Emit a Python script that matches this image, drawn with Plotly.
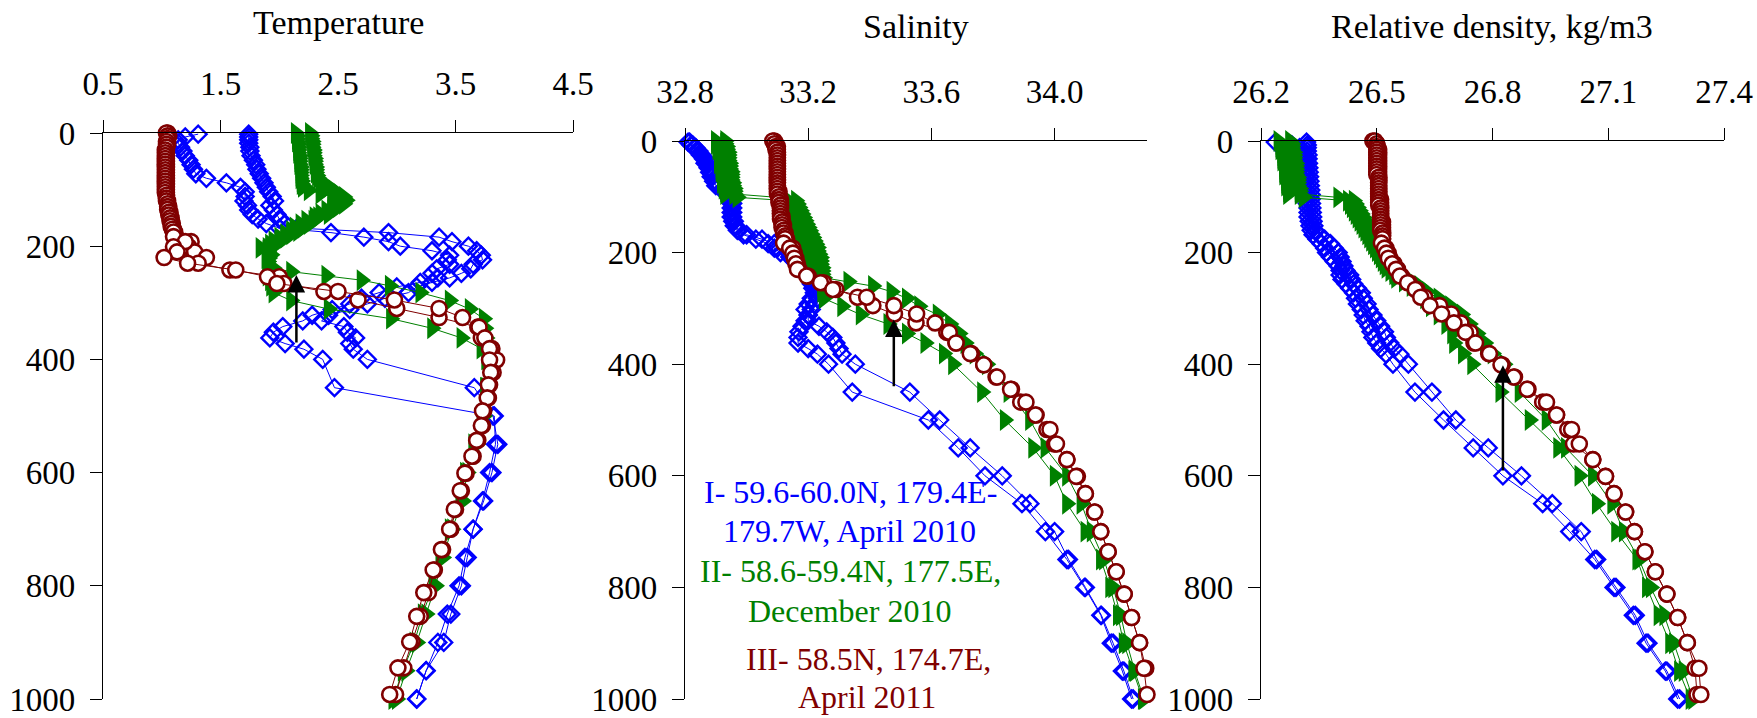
import plotly.graph_objects as go

# ---------------- DATA ----------------
# Series I (blue, April 2010) - two stations
blue_depth = [2,7,12,18,25,32,40,48,56,64,72,80,88,96,104,112,120,128,136,144,
              152,160,168,176,184,192,200,208,216,224,232,240,248,256,264,272,282,292,302,312,
              322,332,342,352,362,372,382,400,450,500,550,600,650,700,750,800,850,900,950,1000]
blue1_temp = [1.31,1.20,1.14,1.14,1.16,1.18,1.20,1.23,1.25,1.27,
              1.29,1.38,1.55,1.67,1.71,1.71,1.70,1.73,1.74,1.77,
              1.82,1.89,2.00,2.44,2.72,2.93,3.03,3.30,3.45,3.43,
              3.45,3.34,3.30,3.35,3.20,3.00,2.85,2.70,2.60,2.45,
              2.28,2.20,2.03,1.95,1.92,2.05,2.21,2.37,
              2.47,3.83,3.84,3.79,3.73,3.65,3.58,3.53,3.43,3.35,3.25,3.17]
blue2_temp = [1.74,1.74,1.74,1.74,1.75,1.75,1.76,1.78,1.80,1.81,
              1.83,1.85,1.87,1.89,1.91,1.94,1.96,1.92,1.95,1.98,
              2.00,2.05,2.15,2.93,3.36,3.47,3.61,3.68,3.72,3.73,
              3.65,3.63,3.55,3.45,3.30,3.17,3.10,2.90,2.75,2.60,
              2.42,2.36,2.55,2.58,2.65,2.60,2.63,2.75,
              3.66,3.82,3.86,3.81,3.74,3.65,3.60,3.55,3.46,3.40,3.25,3.17]
blue1_sal = [32.81,32.82,32.83,32.84,32.85,32.86,32.865,32.875,32.88,32.885,
             32.893,32.90,32.92,32.937,32.945,32.95,32.95,32.95,32.95,32.955,
             32.96,32.97,32.99,33.03,33.07,33.09,33.11,33.14,33.155,33.17,
             33.185,33.20,33.205,33.21,33.215,33.22,33.21,33.20,33.19,33.20,
             33.19,33.18,33.17,33.167,33.167,33.20,33.23,33.266,
             33.343,33.59,33.687,33.774,33.894,33.97,34.04,34.097,34.15,34.184,34.22,34.25]
blue2_sal = [32.815,32.825,32.835,32.845,32.855,32.865,32.87,32.88,32.885,32.89,
             32.90,32.91,32.93,32.945,32.95,32.955,32.955,32.955,32.955,32.96,
             32.965,32.975,33.00,33.05,33.09,33.10,33.135,33.154,33.165,33.18,
             33.19,33.20,33.21,33.215,33.225,33.23,33.23,33.22,33.21,33.20,
             33.20,33.235,33.26,33.28,33.29,33.30,33.31,33.353,
             33.53,33.627,33.726,33.83,33.92,34.00,34.045,34.10,34.152,34.19,34.225,34.255]
blue1_dens = [26.237,26.28,26.30,26.31,26.312,26.314,26.315,26.316,26.316,26.317,
              26.317,26.318,26.318,26.32,26.32,26.32,26.322,26.322,26.322,26.325,
              26.327,26.33,26.335,26.345,26.356,26.365,26.37,26.38,26.39,26.40,
              26.405,26.405,26.41,26.42,26.43,26.44,26.445,26.45,26.46,26.465,
              26.47,26.48,26.485,26.49,26.50,26.51,26.524,26.542,
              26.599,26.673,26.75,26.827,26.93,27.00,27.065,27.115,27.165,27.198,27.248,27.28]
blue2_dens = [26.318,26.32,26.32,26.32,26.322,26.322,26.323,26.324,26.325,26.326,
              26.327,26.328,26.329,26.33,26.33,26.331,26.332,26.333,26.334,26.335,
              26.337,26.34,26.35,26.365,26.38,26.39,26.40,26.405,26.41,26.415,
              26.42,26.43,26.435,26.44,26.45,26.46,26.465,26.475,26.48,26.49,
              26.50,26.51,26.52,26.525,26.534,26.545,26.56,26.582,
              26.643,26.705,26.789,26.875,26.955,27.03,27.07,27.12,27.17,27.203,27.252,27.285]

# Series II (green, December 2010) - two stations
green_depth = [0,5,10,15,20,25,30,35,40,45,50,55,60,65,70,75,80,85,90,95,
               101,107,113,119,125,131,137,143,149,155,161,167,173,179,185,191,197,203,209,215,221,227,233,239,245,
               252,260,270,282,296,311,328,345,362,381,400,
               450,500,550,600,650,700,750,800,850,900,950,1000]
green1_temp = [2.14,2.15,2.15,2.15,2.16,2.16,2.16,2.16,2.17,2.17,2.17,2.17,2.18,2.18,2.18,2.18,2.18,2.19,2.19,2.20,
               2.25,2.35,2.45,2.52,2.50,2.45,2.40,2.35,2.30,2.23,2.18,2.13,2.10,2.05,2.00,1.95,1.92,1.90,1.90,1.90,1.89,1.90,1.90,1.95,2.10,
               2.40,2.70,2.94,3.20,3.45,3.62,3.74,3.75,3.76,3.77,3.77,
               3.75,3.72,3.65,3.58,3.54,3.45,3.37,3.31,3.22,3.15,3.05,2.97]
green2_temp = [2.26,2.27,2.27,2.28,2.28,2.28,2.29,2.29,2.29,2.30,2.30,2.30,2.31,2.31,2.31,2.32,2.33,2.35,2.38,2.42,
               2.46,2.50,2.55,2.57,2.55,2.50,2.45,2.42,2.33,2.29,2.25,2.20,2.16,2.10,2.05,2.00,1.97,1.84,1.90,1.93,1.91,1.90,1.90,1.90,1.90,
               1.90,1.92,1.93,1.95,2.10,2.42,2.95,3.30,3.55,3.72,3.76,
               3.76,3.74,3.68,3.60,3.56,3.47,3.39,3.33,3.25,3.17,3.08,3.00]
green1_sal = [32.90,32.90,32.905,32.905,32.91,32.91,32.91,32.91,32.91,32.915,32.915,32.915,32.92,32.92,32.92,32.92,32.925,32.925,32.93,32.93,
              32.97,33.135,33.14,33.145,33.15,33.155,33.16,33.16,33.165,33.17,33.17,33.175,33.18,33.18,33.185,33.19,33.19,33.195,33.20,33.20,33.205,33.21,33.215,33.22,33.25,
              33.33,33.41,33.47,33.52,33.56,33.62,33.66,33.69,33.71,33.74,33.78,
              33.85,33.92,33.97,34.04,34.087,34.12,34.16,34.19,34.215,34.235,34.26,34.29]
green2_sal = [32.93,32.93,32.935,32.935,32.94,32.94,32.94,32.94,32.945,32.945,32.945,32.95,32.95,32.95,32.95,32.955,32.955,32.96,32.96,32.96,
              33.10,33.16,33.165,33.17,33.175,33.18,33.185,33.19,33.195,33.20,33.205,33.21,33.215,33.22,33.225,33.23,33.23,33.235,33.24,33.24,33.24,33.245,33.245,33.245,33.245,
              33.245,33.245,33.245,33.25,33.31,33.37,33.46,33.52,33.58,33.64,33.67,
              33.764,33.838,33.93,34.00,34.04,34.10,34.15,34.18,34.205,34.224,34.255,34.286]
green1_dens = [26.245,26.25,26.25,26.25,26.255,26.255,26.255,26.255,26.26,26.26,26.26,26.26,26.26,26.265,26.265,26.265,26.265,26.27,26.27,26.27,
               26.31,26.425,26.43,26.435,26.44,26.445,26.45,26.455,26.46,26.465,26.47,26.475,26.48,26.485,26.49,26.495,26.50,26.505,26.51,26.515,26.52,26.525,26.535,26.545,26.57,
               26.59,26.61,26.63,26.66,26.69,26.72,26.74,26.76,26.78,26.80,26.83,
               26.87,26.94,26.99,27.06,27.11,27.14,27.18,27.21,27.245,27.27,27.295,27.32]
green2_dens = [26.275,26.28,26.28,26.28,26.285,26.285,26.285,26.285,26.29,26.29,26.29,26.29,26.29,26.295,26.295,26.295,26.295,26.30,26.30,26.30,
               26.40,26.44,26.445,26.45,26.455,26.46,26.465,26.47,26.475,26.48,26.485,26.49,26.495,26.50,26.505,26.51,26.515,26.52,26.525,26.53,26.535,26.54,26.545,26.55,26.55,
               26.57,26.59,26.61,26.625,26.64,26.66,26.68,26.695,26.70,26.723,26.747,
               26.82,26.896,26.97,27.025,27.07,27.12,27.175,27.20,27.23,27.26,27.283,27.313]

# Series III (dark red, April 2011) - two stations
red_depth = [0,5,10,15,20,25,30,35,40,45,50,55,60,65,70,75,80,85,90,95,100,105,110,115,120,125,130,135,140,145,150,155,160,165,170,175,
             183,192,201,210,220,230,242,254,266,280,295,310,326,343,362,381,401,423,445,468,491,517,543,571,601,632,665,700,736,772,812,854,899,945,992]
red1_temp = [1.05,1.06,1.05,1.05,1.05,1.04,1.04,1.04,1.04,1.04,1.04,1.04,1.04,1.04,1.04,1.04,1.04,1.04,1.04,1.04,
             1.04,1.04,1.04,1.04,1.05,1.05,1.06,1.06,1.07,1.07,1.08,1.08,1.09,1.09,1.10,1.11,
             1.12,1.25,1.23,1.28,1.38,1.31,1.58,2.00,2.04,2.38,2.67,3.00,3.36,3.69,3.72,3.81,3.85,3.82,3.79,3.78,
             3.74,3.73,3.69,3.65,3.59,3.55,3.50,3.46,3.39,3.32,3.27,3.20,3.13,3.06,2.99]
red2_temp = [1.04,1.05,1.05,1.04,1.04,1.04,1.03,1.03,1.03,1.03,1.03,1.03,1.03,1.03,1.03,1.03,1.03,1.03,1.03,1.03,
             1.03,1.03,1.04,1.04,1.04,1.05,1.05,1.05,1.06,1.06,1.07,1.07,1.08,1.08,1.09,1.10,
             1.10,1.20,1.10,1.13,1.02,1.22,1.63,1.90,1.98,2.50,2.98,3.36,3.56,3.70,3.75,3.79,3.79,3.80,3.78,3.77,
             3.73,3.72,3.68,3.64,3.58,3.54,3.49,3.45,3.38,3.31,3.23,3.17,3.11,3.01,2.94]
red1_sal = [33.09,33.095,33.10,33.10,33.10,33.10,33.10,33.10,33.10,33.10,33.10,33.10,33.10,33.10,33.10,33.10,33.10,33.10,33.105,33.105,
            33.105,33.11,33.11,33.11,33.11,33.11,33.11,33.115,33.115,33.115,33.12,33.12,33.12,33.125,33.125,33.13,
            33.13,33.15,33.155,33.16,33.165,33.17,33.20,33.25,33.29,33.36,33.41,33.48,33.55,33.65,33.68,33.73,33.77,33.81,33.86,33.89,
            33.94,33.975,34.00,34.04,34.074,34.10,34.13,34.15,34.174,34.20,34.226,34.25,34.276,34.296,34.31]
red2_sal = [33.085,33.09,33.095,33.095,33.10,33.10,33.10,33.10,33.10,33.10,33.10,33.10,33.10,33.10,33.10,33.10,33.10,33.10,33.10,33.10,
            33.105,33.105,33.105,33.11,33.11,33.11,33.11,33.11,33.11,33.115,33.115,33.115,33.12,33.12,33.125,33.125,
            33.12,33.14,33.15,33.155,33.16,33.165,33.195,33.24,33.28,33.39,33.478,33.552,33.612,33.658,33.68,33.726,33.77,33.813,33.857,33.907,
            33.938,33.985,34.006,34.04,34.07,34.10,34.13,34.15,34.174,34.20,34.226,34.25,34.276,34.29,34.30]
red1_dens = [26.49,26.50,26.50,26.505,26.505,26.505,26.505,26.505,26.505,26.505,26.505,26.505,26.505,26.505,26.505,26.505,26.505,26.505,26.505,26.505,
             26.505,26.51,26.51,26.51,26.51,26.51,26.51,26.51,26.51,26.515,26.515,26.515,26.515,26.515,26.515,26.515,
             26.515,26.524,26.53,26.534,26.545,26.554,26.564,26.584,26.604,26.624,26.663,26.693,26.718,26.742,26.752,26.79,26.825,26.857,26.892,26.93,
             26.966,26.995,27.01,27.06,27.093,27.115,27.145,27.168,27.195,27.222,27.252,27.28,27.305,27.325,27.33]
red2_dens = [26.495,26.50,26.50,26.50,26.50,26.50,26.50,26.50,26.50,26.50,26.50,26.50,26.50,26.505,26.505,26.505,26.505,26.505,26.505,26.505,
             26.505,26.505,26.505,26.505,26.51,26.51,26.51,26.51,26.51,26.51,26.51,26.51,26.51,26.515,26.515,26.515,
             26.512,26.52,26.525,26.53,26.54,26.55,26.56,26.58,26.60,26.614,26.638,26.668,26.70,26.73,26.756,26.792,26.822,26.855,26.89,26.94,
             26.966,27.005,27.025,27.06,27.093,27.115,27.145,27.168,27.195,27.222,27.252,27.28,27.305,27.335,27.34]

depth_ticks = [0, 200, 400, 600, 800, 1000]
temp_ticks = [0.5, 1.5, 2.5, 3.5, 4.5]
sal_ticks = [32.8, 33.2, 33.6, 34.0]
dens_ticks = [26.2, 26.5, 26.8, 27.1, 27.4]

panel_titles = ["Temperature", "Salinity", "Relative density, kg/m3"]
legend_lines = [
    ("I- 59.6-60.0N, 179.4E-", "179.7W, April 2010"),
    ("II- 58.6-59.4N, 177.5E,", "December 2010"),
    ("III- 58.5N, 174.7E,", "April 2011"),
]
# arrows: (x, tip depth, tail depth)
arrows = [(2.146, 251, 373), (33.478, 320, 442), (26.827, 402, 593)]

# ---------------- STYLE ----------------
W, H = 1757, 718
FONT = "Liberation Serif"
BLUE, GREEN, RED = "#0000FF", "#008000", "#800000"

def px_x(p):
    return p / W

def px_y(p):
    return 1 - p / H

fig = go.Figure()

blue_style = dict(mode="lines+markers", line=dict(color=BLUE, width=1),
                  marker=dict(symbol="diamond-open", size=13, color=BLUE, line=dict(width=2.4, color=BLUE)))
green_style = dict(mode="lines+markers", line=dict(color=GREEN, width=1),
                   marker=dict(symbol="triangle-right", size=19, color=GREEN, line=dict(width=0)))
red_style = dict(mode="lines+markers", line=dict(color=RED, width=1),
                 marker=dict(symbol="circle", size=15, color="white", line=dict(width=2.6, color=RED)))

panels = [
    ("x", "y", [blue1_temp, blue2_temp], [green1_temp, green2_temp], [red1_temp, red2_temp]),
    ("x2", "y2", [blue1_sal, blue2_sal], [green1_sal, green2_sal], [red1_sal, red2_sal]),
    ("x3", "y3", [blue1_dens, blue2_dens], [green1_dens, green2_dens], [red1_dens, red2_dens]),
]
for xa, ya, blues, greens, reds in panels:
    for v in blues:
        fig.add_trace(go.Scatter(x=v, y=blue_depth, xaxis=xa, yaxis=ya, cliponaxis=False, showlegend=False, **blue_style))
    for v in greens:
        fig.add_trace(go.Scatter(x=v, y=green_depth, xaxis=xa, yaxis=ya, cliponaxis=False, showlegend=False, **green_style))
    for v in reds:
        fig.add_trace(go.Scatter(x=v, y=red_depth, xaxis=xa, yaxis=ya, cliponaxis=False, showlegend=False, **red_style))

tickfont = dict(family=FONT, size=33, color="black")

def xaxis(domain, rng, tv, tt, anchor):
    return dict(domain=domain, range=rng, side="top", anchor=anchor, tickvals=tv, ticktext=tt,
                ticks="outside", ticklen=12, tickwidth=1.3, tickcolor="black",
                showline=True, linecolor="black", linewidth=1.3, showgrid=False, zeroline=False,
                tickfont=tickfont, ticklabelstandoff=12, automargin=False, fixedrange=True)

def yaxis(domain, anchor):
    return dict(domain=domain, range=[1000, 0], anchor=anchor, tickvals=depth_ticks,
                ticktext=[str(t) for t in depth_ticks],
                ticks="outside", ticklen=12, tickwidth=1.3, tickcolor="black",
                showline=True, linecolor="black", linewidth=1.3, showgrid=False, zeroline=False,
                tickfont=tickfont, ticklabelstandoff=8, automargin=False, fixedrange=True)

p1x = [px_x(103), px_x(573)]
p2x = [px_x(685), px_x(1147)]
p3x = [px_x(1261), px_x(1724)]
p1y = [px_y(699), px_y(133)]
p23y = [px_y(699), px_y(141)]

fig.update_layout(
    width=W, height=H, margin=dict(l=0, r=0, t=0, b=0),
    paper_bgcolor="white", plot_bgcolor="white", showlegend=False,
    xaxis=xaxis(p1x, [0.5, 4.5], temp_ticks, [f"{t:.1f}" for t in temp_ticks], "y"),
    yaxis=yaxis(p1y, "x"),
    xaxis2=xaxis(p2x, [32.8, 34.3], sal_ticks, [f"{t:.1f}" for t in sal_ticks], "y2"),
    yaxis2=yaxis(p23y, "x2"),
    xaxis3=xaxis(p3x, [26.2, 27.4], dens_ticks, [f"{t:.1f}" for t in dens_ticks], "y3"),
    yaxis3=yaxis(p23y, "x3"),
)

anns = []
title_pos = [(338, 23), (916, 27), (1492, 26)]
for t, (cx, cy) in zip(panel_titles, title_pos):
    anns.append(dict(text=t, x=px_x(cx), y=px_y(cy), xref="paper", yref="paper",
                     xanchor="center", yanchor="middle", showarrow=False,
                     font=dict(family=FONT, size=34, color="black")))

leg_pos = [((850, 492), (849, 531), BLUE), ((850, 571), (849, 611), GREEN), ((868, 659), (867, 697), RED)]
for (l1, l2), (p1, p2, col) in zip(legend_lines, leg_pos):
    for txt, (cx, cy) in ((l1, p1), (l2, p2)):
        anns.append(dict(text=txt, x=px_x(cx), y=px_y(cy), xref="paper", yref="paper",
                         xanchor="center", yanchor="middle", showarrow=False,
                         font=dict(family=FONT, size=32, color=col)))

for i, (ax_val, tip, tail) in enumerate(arrows):
    sfx = "" if i == 0 else str(i + 1)
    anns.append(dict(text="", x=ax_val, y=tip, ax=ax_val, ay=tail,
                     xref="x" + sfx, yref="y" + sfx, axref="x" + sfx, ayref="y" + sfx,
                     showarrow=True, arrowhead=2, arrowsize=1.4, arrowwidth=2.5, arrowcolor="black"))

fig.update_layout(annotations=anns)
fig.write_html("out.html")
